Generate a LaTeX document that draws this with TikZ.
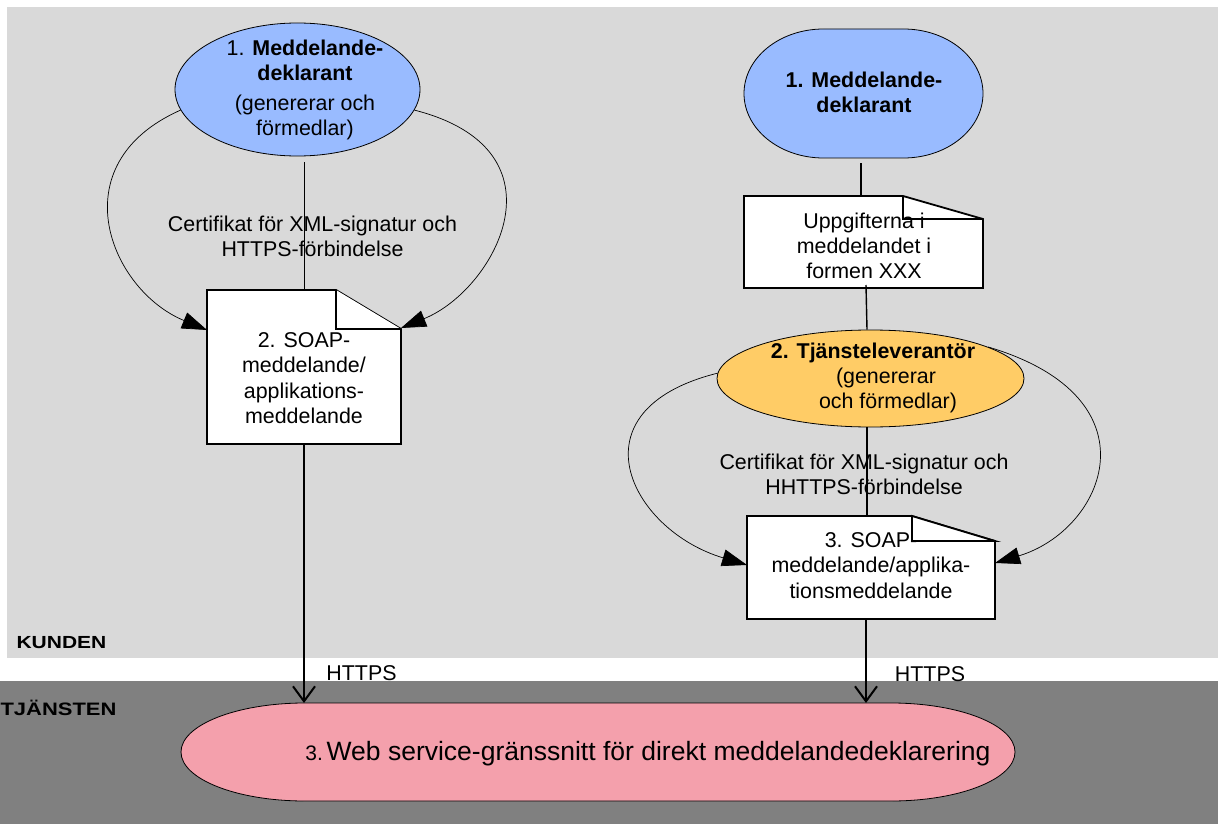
\documentclass[tikz,border=0pt]{standalone}
\usepackage{fontspec}
\usepackage{graphicx}
\setmainfont{Liberation Sans}
\usetikzlibrary{shapes.geometric,arrows.meta,calc}
\definecolor{bgK}{RGB}{217,217,217}
\definecolor{bgT}{RGB}{128,128,128}
\definecolor{blueF}{RGB}{153,187,255}
\definecolor{orangeF}{RGB}{255,204,102}
\definecolor{pinkF}{RGB}{244,160,172}
\begin{document}
\begin{tikzpicture}[x=1pt,y=-1pt,
  txt/.style={font=\fontsize{21.4}{25}\selectfont, align=center, inner sep=0pt},
  holder/.style={inner sep=0pt, outer sep=0pt, draw=none},
  outline/.style={draw=black, line width=0.8pt},
  docline/.style={draw=black, line width=1.8pt, fill=white, line join=miter},
  link/.style={draw=black, line width=0.8pt},
  link2/.style={draw=black, line width=1.4pt},
  curve/.style={draw=black, line width=0.7pt, -{Triangle[length=25pt,width=17pt]}},
  bigarrow/.style={draw=black, line width=2.2pt, -{Straight Barb[length=15pt,width=22pt,line width=2pt]}},
  lane/.style={inner sep=0pt}
]
\useasboundingbox (0,0) rectangle (1218,824);
\fill[bgK] (7,7) rectangle (1218,658);
\fill[bgT] (0,681) rectangle (1218,824);

% lane labels
\node[lane] (kunden) at (61.5,643) {\scalebox{1.2}[1]{\fontsize{17.5}{20}\selectfont\bfseries KUNDEN}};
\node[lane] (tjansten) at (58.5,708) {\scalebox{1.22}[1]{\fontsize{18}{20}\selectfont\bfseries TJÄNSTEN}};

% bottom service
\node[holder, minimum width=834pt, minimum height=98pt] (p) at (598,752) {};
\draw[outline, fill=pinkF] ($(p.north)+(-293,0)$) -- ($(p.north)+(293,0)$)
  arc[start angle=-90,end angle=90,x radius=124,y radius=49]
  -- ($(p.south)+(-293,0)$)
  arc[start angle=90,end angle=270,x radius=124,y radius=49] -- cycle;
\node[inner sep=0pt] (pt) at (648,754) {{\fontsize{21}{25}\selectfont 3.} {\fontsize{26.5}{30}\selectfont Web service-gränssnitt för direkt meddelandedeklarering}};

% ---------- left column ----------
\node[ellipse, outline, fill=blueF, minimum width=245pt, minimum height=133pt, inner sep=0pt] (e1) at (297.5,89.5) {};
\node[txt] (t1) at (305,90) {1. \textbf{Meddelande-}\\\textbf{deklarant}\\[5.5pt](genererar och\\förmedlar)};

\node[txt] (c1) at (312.5,236.5) {Certifikat för XML-signatur och\\HTTPS-förbindelse};

\node[holder, minimum width=194pt, minimum height=154pt] (d1) at (304,367) {};
\draw[docline] (d1.north west) -- ($(d1.north east)+(-65,0)$) -- ($(d1.north east)+(0,39)$) -- (d1.south east) -- (d1.south west) -- cycle;
\draw[docline] ($(d1.north east)+(-65,0)$) -- ($(d1.north east)+(-65,39)$) -- ($(d1.north east)+(0,39)$);
\node[txt, font=\fontsize{21.4}{25.5}\selectfont] (td1) at (304,378) {2. SOAP-\\meddelande/\\applikations-\\meddelande};

\draw[link] ($(d1.north |- e1.south)+(0,6)$) -- (d1.north);
\draw[curve] (e1.190) .. controls +(-122,54) and +(-97,-40) .. ($(d1.north west)+(0,40)$);
\draw[curve] (e1.350) .. controls +(157,40) and +(94,-38) .. ($(d1.north east)+(0,38)$);
\draw[bigarrow] (d1.south) -- (d1.south |- p.north);
\node[txt] (h1) at (361.5,673) {HTTPS};

% ---------- right column ----------
\node[holder, minimum width=239pt, minimum height=129pt] (e2) at (863.5,93.5) {};
\draw[outline, fill=blueF] ($(e2.north)+(-40,0)$) -- ($(e2.north)+(40,0)$)
  arc[start angle=-90,end angle=90,x radius=79.5,y radius=64.5]
  -- ($(e2.south)+(-40,0)$)
  arc[start angle=90,end angle=270,x radius=79.5,y radius=64.5] -- cycle;
\node[txt] (t2) at (864,92.5) {\textbf{1. Meddelande-}\\\textbf{deklarant}};

\node[holder, minimum width=239pt, minimum height=92pt] (d2) at (863.5,242) {};
\draw[docline] (d2.north west) -- ($(d2.north east)+(-80,0)$) -- ($(d2.north east)+(0,23)$) -- (d2.south east) -- (d2.south west) -- cycle;
\node[txt] (td2) at (864,246) {Uppgifterna i\\meddelandet i\\formen XXX};
\draw[docline, fill=none] ($(d2.north east)+(-80,0)$) -- ($(d2.north east)+(-80,23)$) -- ($(d2.north east)+(0,23)$);

\node[ellipse, outline, fill=orangeF, minimum width=307pt, minimum height=97pt, inner sep=0pt] (e3) at (870.5,378.5) {};
\node[txt] (t3) at (873,378) {\textbf{2. Tjänsteleverantör}\\\hspace*{26pt}(genererar\\\hspace*{30pt}och förmedlar)};

\node[txt] (c2) at (864,474) {Certifikat för XML-signatur och\\HHTTPS-förbindelse};

\node[holder, minimum width=248pt, minimum height=103pt] (d3) at (871,567.5) {};
\draw[docline] (d3.north west) -- ($(d3.north east)+(-83,0)$) -- ($(d3.north east)+(0,25)$) -- (d3.south east) -- (d3.south west) -- cycle;
\node[txt, font=\fontsize{21.4}{25.5}\selectfont] (td3) at (871,565.5) {3. SOAP-\\meddelande/applika-\\tionsmeddelande};
\draw[docline] ($(d3.north east)+(-83,0)$) -- ($(d3.north east)+(-83,25)$) -- ($(d3.north east)+(0,25)$) -- cycle;

\draw[link2] ($(e2.south)+(-2.5,5)$) -- ($(d2.north)+(-2.5,0)$);
\draw[link2] ($(d2.south)+(2.5,-3)$) -- ($(e3.north)+(-3.5,0)$);
\draw[link2] ($(e3.south)+(-3.5,0)$) -- ($(d3.north)+(-4,0)$);
\draw[curve] (e3.178) .. controls +(-148,37) and +(-117,-35) .. ($(d3.north west)+(0,49)$);
\draw[curve] (e3.15) .. controls +(172,51) and +(110,-33) .. ($(d3.north east)+(0,47)$);
\coordinate (a3) at ($(d3.south)+(-5,0)$);
\draw[bigarrow] (a3) -- (a3 |- p.north);
\node[txt] (h2) at (930,674) {HTTPS};
\end{tikzpicture}
\end{document}
